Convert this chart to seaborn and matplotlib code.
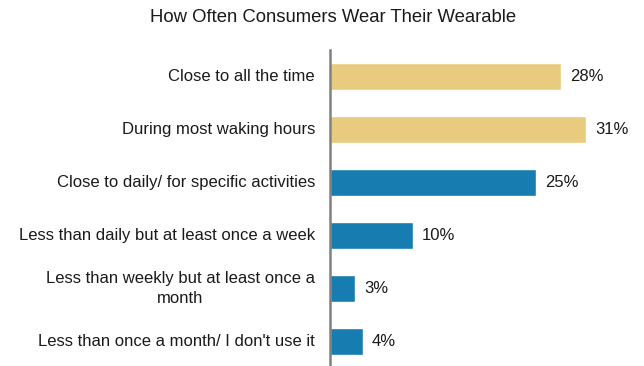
import matplotlib
matplotlib.use("Agg")
import matplotlib.pyplot as plt
import matplotlib.transforms as mtransforms
import seaborn as sns
import pandas as pd

categories = [
    "Close to all the time",
    "During most waking hours",
    "Close to daily/ for specific activities",
    "Less than daily but at least once a week",
    "Less than weekly but at least once a\nmonth",
    "Less than once a month/ I don't use it",
]
values = [28, 31, 25, 10, 3, 4]
groups = ["frequent", "frequent", "regular", "regular", "regular", "regular"]
palette = {"frequent": "#E8CB7E", "regular": "#177DB1"}

sns.set_theme(style="white")
plt.rcParams["font.family"] = ["Liberation Sans", "DejaVu Sans"]

df = pd.DataFrame({"category": categories, "value": values, "group": groups})

W, H = 644, 366
fig = plt.figure(figsize=(W / 100, H / 100), dpi=100)
ax = fig.add_axes([330 / W, 0, 290 / W, 316 / H])

sns.barplot(data=df, x="value", y="category", hue="group", palette=palette,
            dodge=False, legend=False, width=0.51, saturation=1, ax=ax)

px_per_unit = 8.25
ax.set_xlim(0, 290 / px_per_unit)
ax.set_ylim(-0.5 + 316 / 53, -0.5)

for i, v in enumerate(values):
    ax.text(v + 1.1, i, f"{v}%", va="center", ha="left", fontsize=12, color="#1a1a1a")

ax.set_xlabel("")
ax.set_ylabel("")
ax.set_xticks([])
ax.set_yticks(range(len(categories)))
ax.set_yticklabels([])
ax.tick_params(axis="y", length=0)

# category labels, right-aligned to the axis with centred wrapped lines
label_tf = mtransforms.offset_copy(ax.get_yaxis_transform(), fig=fig, x=-15, y=0, units="dots")
for i, cat in enumerate(categories):
    ax.text(0, i, cat, transform=label_tf, ha="right", va="center",
            multialignment="center", linespacing=1.45, fontsize=12, color="#1a1a1a")

for s in ["top", "right", "bottom"]:
    ax.spines[s].set_visible(False)
ax.spines["left"].set_color("#808080")
ax.spines["left"].set_linewidth(1.8)

fig.text(333 / W, 1 - 17 / H, "How Often Consumers Wear Their Wearable",
         ha="center", va="center", fontsize=13.3, color="#1a1a1a")

fig.savefig("out.png", dpi=100, facecolor="white")
